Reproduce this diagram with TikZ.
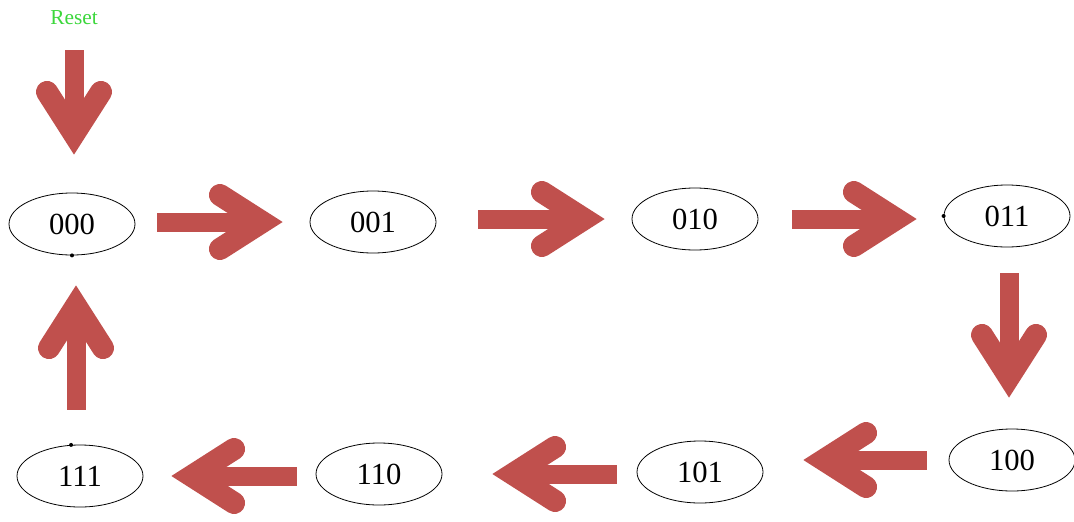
\documentclass[tikz,border=0pt]{standalone}
\usepackage{fontspec}
\setmainfont{Liberation Serif}
\usetikzlibrary{shapes.geometric}

\definecolor{arrowred}{RGB}{192,80,77}
\definecolor{resetgreen}{RGB}{60,215,60}

% thick chevron head with round barb ends
\pgfdeclarearrow{
  name = Chevron,
  setup code = {
    \pgfarrowssettipend{0pt}
    \pgfarrowssetlineend{-14pt}
    \pgfarrowssetbackend{-56pt}
    \pgfarrowsupperhullpoint{-56pt}{29pt}
    \pgfarrowshullpoint{0pt}{0pt}
  },
  drawing code = {
    \pgfsetlinewidth{16.5pt}
    \pgfsetroundcap
    \pgfsetmiterjoin
    \pgfpathmoveto{\pgfqpoint{-47pt}{20.25pt}}
    \pgfpathlineto{\pgfqpoint{-15.3pt}{0pt}}
    \pgfpathlineto{\pgfqpoint{-47pt}{-20.25pt}}
    \pgfusepathqstroke
  }
}

\tikzset{
  state/.style={ellipse, draw, line width=0.6pt, minimum width=94.5pt, minimum height=46.5pt, inner sep=0pt, font=\fontsize{23}{23}\selectfont},
  trans/.style={color=arrowred, line width=14.25pt, -Chevron},
}

\begin{document}
\begin{tikzpicture}[x=0.75pt,y=0.75pt,yscale=-1,xscale=1]
\useasboundingbox (0,0) rectangle (1074,521);

% Text Node
\node [text=resetgreen, inner sep=0pt, font=\fontsize{16}{16}\selectfont] (reset) at (74,18) {Reset};

%Shape: Ellipse
\node [state] (s000) at (72,224) {000};
%Shape: Ellipse
\node [state] (s001) at (373,222) {001};
%Shape: Ellipse
\node [state] (s010) at (695,219) {010};
%Shape: Ellipse
\node [state] (s011) at (1007,216) {011};
%Shape: Ellipse
\node [state] (s100) at (1012,460) {100};
%Shape: Ellipse
\node [state] (s101) at (700,472) {101};
%Shape: Ellipse
\node [state] (s110) at (379,474) {110};
%Shape: Ellipse
\node [state] (s111) at (80,476) {111};

%Shape: Circle
\fill (s000.south) circle (2);
\fill (s011.west) circle (2);
\fill (s111.106) circle (2);

%Straight Lines
\draw [trans, shorten <=18.75pt, shorten >=28.5pt] (reset.south) -- (reset.south |- s000.north);
%Straight Lines
\draw [trans, shorten <=16.5pt, shorten >=20.25pt] (s001.west -| s000.east) -- (s001.west);
%Straight Lines
\draw [trans, shorten <=31.5pt, shorten >=20.25pt] (s010.west -| s001.east) -- (s010.west);
%Straight Lines
\draw [trans, shorten <=25.5pt, shorten >=20.25pt] (s010.east) -- (s010.east -| s011.west);
%Straight Lines
\draw [trans, shorten <=19.5pt, shorten >=23.25pt] (s011.south -| 1009,0) -- (s100.north -| 1009,0);
%Straight Lines
\draw [trans, shorten <=16.5pt, shorten >=30pt] (s100.west) -- (s100.west -| s101.east);
%Straight Lines
\draw [trans, shorten <=15pt, shorten >=37.5pt] (s110.east -| s101.west) -- (s110.east);
%Straight Lines
\draw [trans, shorten <=14.25pt, shorten >=21pt] (s111.east -| s110.west) -- (s111.east);
%Straight Lines
\draw [trans, shorten <=26.25pt, shorten >=22.5pt] (s111.north -| 76,0) -- (s000.south -| 76,0);
\end{tikzpicture}
\end{document}
